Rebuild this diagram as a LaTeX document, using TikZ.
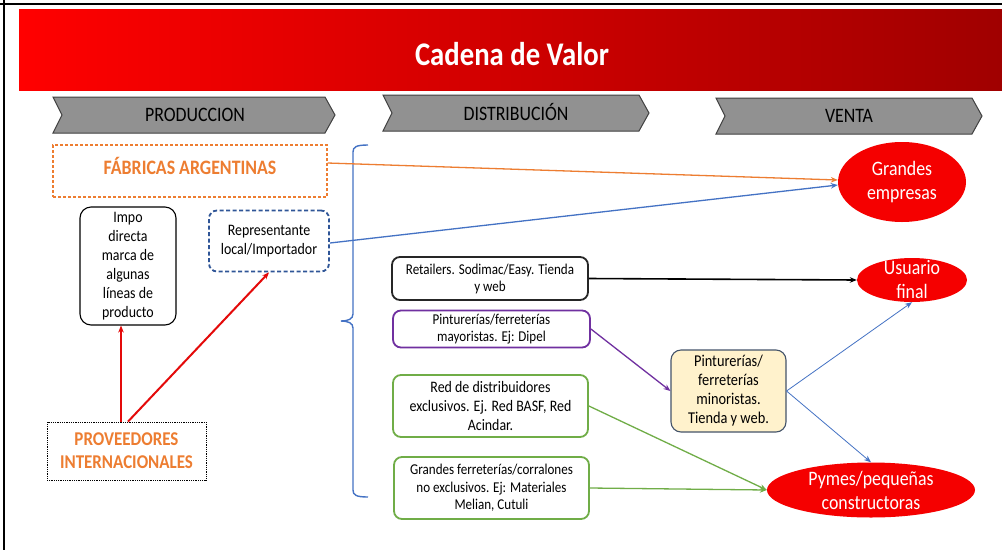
\documentclass[tikz,border=0pt]{standalone}
\usepackage{fontspec}
\setmainfont{Carlito}[FakeStretch=0.87]
\usetikzlibrary{arrows.meta,shapes.geometric,calc}
\definecolor{offorange}{RGB}{237,125,49}
\definecolor{offblue}{RGB}{68,114,196}
\definecolor{darkblue}{RGB}{47,85,151}
\definecolor{offgreen}{RGB}{112,173,71}
\definecolor{offpurple}{RGB}{112,48,160}
\definecolor{beige}{RGB}{255,242,204}
\definecolor{slateb}{RGB}{68,84,106}
\definecolor{bannerdark}{RGB}{160,0,0}
\definecolor{chevgray}{RGB}{145,145,145}
\definecolor{arrred}{RGB}{228,10,10}
\definecolor{ellred}{RGB}{245,0,0}
\tikzset{
  tip/.style={-{Stealth[length=7pt,width=5.5pt]}},
  chevshape/.style={fill=chevgray, draw=black!75, line width=1pt},
  chevtext/.style={font=\fontsize{20.5}{22}\selectfont, text=black},
  boxbase/.style={rectangle, rounded corners=8pt, inner sep=2pt, align=center, fill=white},
  smalltxt/.style={font=\fontsize{15}{17}\selectfont},
  midtxt/.style={font=\fontsize{16}{19}\selectfont},
  ellbase/.style={ellipse, fill=ellred, draw=none, inner sep=0pt},
  elltext/.style={text=white, align=center, font=\fontsize{20.5}{24}\selectfont},
  orangebold/.style={text=offorange, font=\bfseries\fontsize{20.5}{23}\selectfont, align=center},
}
\begin{document}
\begin{tikzpicture}[x=1pt,y=-1pt]
\useasboundingbox (0,0) rectangle (1002,550);
\fill[white] (0,0) rectangle (1002,550);
% frame lines
\draw[line width=2.4pt] (4,0) -- (4,550);
\draw[line width=2.4pt] (0,4) -- (1002,4);
% banner
\shade[left color=red, right color=bannerdark] (19,9) rectangle (1002,90);
\node[text=white, font=\bfseries\fontsize{33}{36}\selectfont] (title) at (512,54) {Cadena de Valor};
% chevrons
\filldraw[chevshape] (53,97) -- (62,115) -- (53,133) -- (325,133) -- (335,115) -- (325,97) -- cycle;
\node[chevtext] (prodlbl) at (195,115) {PRODUCCION};
\filldraw[chevshape] (383,95) -- (392,113) -- (383,131) -- (639,131) -- (649,113) -- (639,95) -- cycle;
\node[chevtext] (distlbl) at (516,112) {DISTRIBUCIÓN};
\filldraw[chevshape] (716,98) -- (725,116) -- (716,134) -- (972,134) -- (982,116) -- (972,98) -- cycle;
\node[chevtext] (ventlbl) at (849,116) {VENTA};
% production side
\node[draw=offorange, dash pattern=on 3pt off 2pt, line width=1.1pt, minimum width=274pt, minimum height=52pt, inner sep=0pt] (fab) at (190,171) {};
\node[orangebold] (fabtext) at (190,166) {FÁBRICAS ARGENTINAS};
\node[boxbase, draw=black, line width=1.1pt, rounded corners=11pt, minimum width=96pt, minimum height=118pt, midtxt] (impo) at (128,266) {Impo\\directa\\marca de\\algunas\\líneas de\\producto};
\node[boxbase, draw=darkblue, line width=1.8pt, dash pattern=on 4pt off 2.5pt, minimum width=120pt, minimum height=61pt, midtxt] (rep) at (269,241) {Representante\\local/Importador};
\node[draw=black, dash pattern=on 1pt off 0.8pt, line width=0.8pt, minimum width=159pt, minimum height=58pt, inner sep=0pt, align=center, font=\bfseries\fontsize{19.5}{23}\selectfont, text=offorange] (prov) at (126.5,451) {PROVEEDORES\\INTERNACIONALES};
\draw[arrred, line width=2pt, tip] ([xshift=-5.5pt]prov.north) -- ([xshift=-7pt]impo.south);
\draw[arrred, line width=2pt, tip] ([xshift=1.5pt]prov.north) -- (rep.south);
% brace
\draw[offblue, line width=1.4pt] (368,145) .. controls (356,145) and (353,147) .. (353,152) -- (353,314) .. controls (353,319) and (348,321) .. (341,321) .. controls (348,321) and (353,323) .. (353,328) -- (353,490) .. controls (353,495) and (356,497) .. (368,497);
% distribution boxes
\node[boxbase, draw=black!85, line width=1.8pt, minimum width=196pt, minimum height=43pt, smalltxt] (ret) at (490,278.5) {Retailers. Sodimac/Easy. Tienda\\y web};
\node[boxbase, draw=offpurple, line width=1.8pt, minimum width=197pt, minimum height=37pt, smalltxt] (may) at (491.5,329) {Pinturerías/ferreterías\\mayoristas. Ej: Dipel};
\node[boxbase, draw=offgreen, line width=1.8pt, minimum width=195pt, minimum height=62pt, midtxt] (red) at (490.5,406) {Red de distribuidores\\exclusivos. Ej. Red BASF, Red\\Acindar.};
\node[boxbase, draw=offgreen, line width=1.8pt, minimum width=195pt, minimum height=62pt, font=\fontsize{15}{17.5}\selectfont] (gfe) at (491.5,488) {Grandes ferreterías/corralones\\no exclusivos. Ej: Materiales\\Melian, Cutuli};
\node[boxbase, fill=beige, draw=slateb, line width=1.1pt, rounded corners=10pt, minimum width=115pt, minimum height=82pt, font=\fontsize{16.5}{19}\selectfont] (min) at (728.5,391) {Pinturerías/\\ferreterías\\minoristas.\\Tienda y web.};
% sales ellipses
\node[ellbase, minimum width=128pt, minimum height=80pt, label={[elltext]center:Grandes\\empresas}] (gran) at (902,182) {};
\node[ellbase, minimum width=110pt, minimum height=44pt, label={[elltext]center:Usuario\\final}] (usu) at (912,280) {};
\node[ellbase, minimum width=208pt, minimum height=55pt, label={[elltext]center:Pymes/pequeñas\\constructoras}] (pym) at (871,490) {};
% connectors
\draw[offorange, line width=1.3pt, tip] ([yshift=8pt]fab.east) -- ([yshift=2pt]gran.west);
\draw[offblue, line width=1.3pt, tip] ([yshift=-2pt]rep.east) -- ([yshift=-3pt]gran.west);
\draw[black, line width=1.6pt, tip] (ret.east) -- (usu.west);
\draw[offpurple, line width=1.3pt, tip] (may.east) -- (min.west);
\draw[offgreen, line width=1.3pt, tip] (red.east) -- (pym.west);
\draw[offgreen, line width=1.3pt, tip] (gfe.east) -- (pym.west);
\draw[offblue, line width=0.8pt, tip] (min.east) -- (usu.south);
\draw[offblue, line width=0.8pt, tip] (min.east) -- (pym.north);
\end{tikzpicture}
\end{document}
